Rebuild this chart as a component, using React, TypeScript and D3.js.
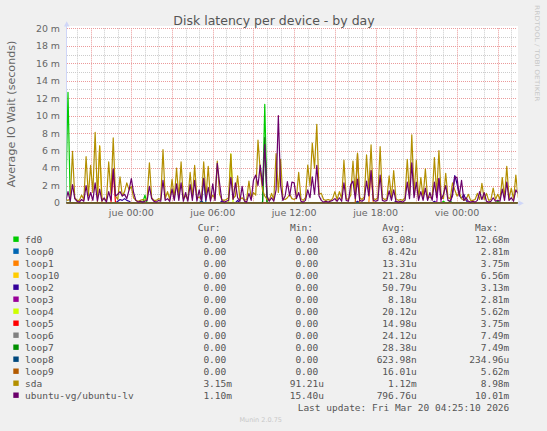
import React from 'react';
import * as d3 from 'd3';

// ---- data (values in milliseconds) ----
const sampleStart = new Date(2026, 2, 18, 19, 10);
const sampleStepMinutes = 10;
const viewStart = new Date(2026, 2, 18, 19, 15, 36);
const viewEnd = new Date(2026, 2, 20, 4, 25, 10);

const sdaValues = [
  0.4, 0.3, 0.5, 5.9, 0.6, 0.3, 0.3, 0.9, 0.4, 5.3,
  0.8, 4.3, 1.2, 8.1, 0.7, 6.5, 0.5, 0.4, 0.3, 4.7,
  1.0, 7.45, 0.8, 0.4, 3.0, 0.8, 1.3, 2.3, 1.5, 1.9,
  0.6, 0.3, 0.2, 0.3, 0.4, 0.3, 0.5, 4.6, 0.6, 0.3,
  0.3, 0.5, 0.4, 6.1, 0.5, 1.3, 0.4, 2.7, 0.5, 4.0,
  0.6, 4.7, 0.5, 0.8, 0.4, 3.5, 0.6, 4.3, 0.5, 0.7,
  0.4, 4.7, 0.6, 4.2, 0.4, 0.9, 0.5, 4.8, 1.0, 0.4,
  0.3, 0.4, 0.6, 5.6, 0.5, 0.8, 3.1, 0.4, 0.6, 0.3,
  0.4, 2.5, 0.5, 1.2, 0.9, 7.2, 3.7, 1.5, 0.8, 0.4,
  0.3, 1.1, 0.4, 5.65, 1.2, 5.0, 0.5, 0.4, 0.6, 1.0,
  0.5, 0.4, 0.6, 3.5, 0.5, 0.3, 0.6, 4.35, 2.0, 6.85,
  4.0, 9.0, 1.0, 1.1, 0.4, 0.3, 0.4, 0.3, 0.5, 1.3,
  0.4, 1.3, 0.5, 4.9, 0.5, 0.4, 0.9, 4.8, 1.0, 5.7,
  0.6, 0.4, 0.7, 5.5, 1.5, 6.65, 0.5, 0.4, 0.6, 6.45,
  0.6, 0.4, 0.5, 3.1, 0.6, 3.7, 0.5, 0.3, 0.4, 0.3,
  0.6, 5.0, 0.8, 7.8, 1.0, 4.9, 0.5, 2.9, 0.6, 3.9,
  0.5, 0.7, 0.5, 5.2, 1.0, 6.0, 0.6, 0.5, 3.4, 0.6,
  0.5, 2.3, 1.5, 0.8, 1.2, 0.5, 0.3, 0.4, 1.0, 0.3,
  0.3, 0.4, 1.1, 0.4, 2.25, 0.4, 1.1, 0.3, 0.4, 1.7,
  0.4, 1.0, 0.4, 2.9, 0.6, 4.2, 0.5, 1.7, 0.4, 3.2,
  0.6,
];

const lvValues = [
  0.2, 1.3, 0.2, 2.1, 0.5, 0.2, 0.1, 0.4, 0.2, 2.0,
  0.3, 1.2, 0.3, 2.3, 0.2, 1.6, 0.2, 0.6, 0.1, 1.3,
  0.3, 3.9, 0.8, 1.0, 1.3, 0.8, 1.0, 0.5, 1.5, 2.8,
  1.2, 0.3, 0.1, 0.2, 0.1, 0.2, 0.3, 1.9, 0.5, 0.2,
  0.1, 0.3, 0.2, 2.6, 0.3, 0.5, 0.2, 1.6, 0.3, 2.2,
  0.3, 2.3, 0.2, 1.2, 0.2, 2.1, 0.3, 2.6, 0.2, 1.5,
  0.2, 2.8, 0.3, 1.8, 0.2, 2.2, 0.3, 4.55, 2.3, 0.3,
  0.1, 0.2, 0.3, 2.95, 0.4, 2.3, 0.6, 0.2, 1.9, 0.2,
  0.1, 1.1, 0.3, 2.6, 3.2, 2.0, 4.35, 2.0, 6.7, 0.8,
  0.2, 0.6, 0.2, 1.5, 10.0, 2.0, 0.3, 0.8, 2.45, 0.8,
  2.4, 2.3, 0.5, 1.2, 0.2, 0.1, 0.3, 1.5, 0.6, 3.0,
  1.0, 4.3, 0.8, 0.3, 0.1, 0.2, 0.1, 0.2, 0.3, 0.5,
  0.2, 0.6, 0.2, 2.3, 0.3, 0.2, 2.1, 2.5, 0.5, 2.75,
  0.3, 0.2, 0.4, 2.5, 0.8, 3.7, 0.3, 0.2, 0.3, 3.2,
  0.3, 0.2, 0.3, 1.4, 0.3, 1.5, 0.2, 0.1, 0.2, 0.1,
  0.3, 2.4, 0.5, 4.6, 0.6, 2.4, 0.3, 1.3, 0.3, 1.7,
  0.3, 1.2, 0.3, 2.4, 0.6, 2.8, 0.4, 1.0, 2.0, 0.3,
  0.2, 0.8, 3.0, 2.9, 0.8, 2.6, 0.3, 0.6, 0.2, 0.1,
  0.2, 0.1, 0.3, 1.3, 0.4, 1.2, 0.2, 0.1, 0.2, 0.6,
  0.2, 0.3, 0.2, 1.6, 0.3, 2.4, 0.3, 0.6, 0.2, 1.5,
  1.1,
];

// sparse readings for mostly idle devices: [sample index, value in ms]
const fd0Readings: [number, number][] = [[1, 12.68], [35, 0.9], [88, 11.3], [167, 0.2], [191, 0.2]];
const loop0Readings: [number, number][] = [[61, 2.81]];
const loop1Readings: [number, number][] = [[135, 3.75]];
const loop10Readings: [number, number][] = [[15, 6.56]];
const loop2Readings: [number, number][] = [
  [23, 0.2], [24, 0.4], [25, 0.3], [26, 0.5], [27, 0.3], [28, 0.2], [69, 0.2], [76, 0.3],
  [129, 0.2], [146, 0.2], [163, 0.2], [171, 1.2], [172, 3.13], [173, 2.2], [174, 0.9],
  [175, 0.5], [176, 1.0], [177, 0.3],
];
const loop3Readings: [number, number][] = [[165, 2.81]];
const loop4Readings: [number, number][] = [[73, 5.62]];
const loop5Readings: [number, number][] = [[21, 3.75]];
const loop6Readings: [number, number][] = [[88, 7.49]];
const loop7Readings: [number, number][] = [[88, 7.49], [170, 0.2]];
const loop8Readings: [number, number][] = [[60, 0.23]];
const loop9Readings: [number, number][] = [[129, 5.62]];

const deviceNames = ['fd0', 'loop0', 'loop1', 'loop10', 'loop2', 'loop3', 'loop4', 'loop5', 'loop6', 'loop7', 'loop8', 'loop9', 'sda', 'ubuntu-vg/ubuntu-lv'];
const deviceColors = ['#00cc00', '#0066b3', '#ff8000', '#ffcc00', '#330099', '#990099', '#ccff00', '#ff0000', '#808080', '#008f00', '#00487d', '#b35a00', '#b38f00', '#6b006b'];
const curLabels = ['0.00', '0.00', '0.00', '0.00', '0.00', '0.00', '0.00', '0.00', '0.00', '0.00', '0.00', '0.00', '3.15m', '1.10m'];
const minLabels = ['0.00', '0.00', '0.00', '0.00', '0.00', '0.00', '0.00', '0.00', '0.00', '0.00', '0.00', '0.00', '91.21u', '15.40u'];
const avgLabels = ['63.08u', '8.42u', '13.31u', '21.28u', '50.79u', '8.18u', '20.12u', '14.98u', '24.12u', '28.38u', '623.98n', '16.01u', '1.12m', '796.76u'];
const maxLabels = ['12.68m', '2.81m', '3.75m', '6.56m', '3.13m', '2.81m', '5.62m', '3.75m', '7.49m', '7.49m', '234.96u', '5.62m', '8.98m', '10.01m'];
const yTickValues = [0, 2, 4, 6, 8, 10, 12, 14, 16, 18, 20];
const dayNames = ['dom', 'lun', 'mar', 'mié', 'jue', 'vie', 'sáb'];

const sampleCount = sdaValues.length;
function fromReadings(readings: [number, number][]): number[] {
  const out = new Array(sampleCount).fill(0);
  readings.forEach(([i, v]) => { out[i] = v; });
  return out;
}

const seriesValues: number[][] = [
  fromReadings(fd0Readings), fromReadings(loop0Readings), fromReadings(loop1Readings),
  fromReadings(loop10Readings), fromReadings(loop2Readings), fromReadings(loop3Readings),
  fromReadings(loop4Readings), fromReadings(loop5Readings), fromReadings(loop6Readings),
  fromReadings(loop7Readings), fromReadings(loop8Readings), fromReadings(loop9Readings),
  sdaValues, lvValues,
];

const W = 547;
const H = 431;
const L = 67, R = 517, T = 28.3, B = 203;

export default function App() {
  const x = d3.scaleTime().domain([viewStart, viewEnd]).range([L, R]);
  const y = d3.scaleLinear().domain([0, 20]).range([B, T]);
  const sampleTime = (i: number) => d3.timeMinute.offset(sampleStart, i * sampleStepMinutes);
  const line = d3.line<number>().x((_, i) => x(sampleTime(i))).y(d => y(d));

  const hours = d3.timeHour.range(d3.timeHour.ceil(viewStart), viewEnd);
  const minorV = hours.filter(h => h.getHours() % 3 !== 0);
  const majorV = hours.filter(h => h.getHours() % 3 === 0);
  const labelTicks = hours.filter(h => h.getHours() % 6 === 0);
  const minorH = d3.range(1, 20, 2);
  const majorH = yTickValues;
  const crisp = (v: number) => Math.round(v) + 0.5;
  const fmt = (d: Date) => `${dayNames[d.getDay()]} ${d3.timeFormat('%H:%M')(d)}`;

  const mono = '"DejaVu Sans Mono", monospace';
  const sans = '"DejaVu Sans", sans-serif';
  const charW = 5.72;
  const colRight = [232, 324, 416.7, 509.3];
  const colHeaderX = [197.7, 290, 382.3, 475];
  const valX = (col: number, s: string) => colRight[col] - (/[a-z]$/.test(s) ? 0 : charW);

  return (
    <svg width={W} height={H} style={{ position: 'absolute', left: 0, top: 0 }} xmlns="http://www.w3.org/2000/svg">
      <defs>
        <clipPath id="plotClip"><rect x={66.5} y={20} width={451} height={183.6} /></clipPath>
      </defs>
      <rect x={0} y={0} width={W} height={H} fill="#f0f0f0" />
      <rect x={66} y={26} width={452} height={177} fill="#ffffff" />
      <text x={W / 2 + 0.5} y={24.5} textAnchor="middle" fontFamily={sans} fontSize={12.5} fill="#555">Disk latency per device - by day</text>
      <text transform="translate(535.3,5) rotate(90)" fontFamily={sans} fontSize={6.3} fill="#c8c8c8" textLength={96.5} lengthAdjust="spacingAndGlyphs">RRDTOOL / TOBI OETIKER</text>
      <text transform="translate(15.2,114) rotate(-90)" textAnchor="middle" fontFamily={sans} fontSize={11.1} fill="#666">Average IO Wait (seconds)</text>

      {/* grid */}
      {minorH.map(v => (
        <line key={'mh' + v} x1={L} x2={R} y1={crisp(y(v))} y2={crisp(y(v))} stroke="#cccccc" strokeDasharray="1,1" />
      ))}
      {minorV.map(h => (
        <line key={'mv' + +h} x1={crisp(x(h))} x2={crisp(x(h))} y1={T} y2={B} stroke="#cccccc" strokeDasharray="1,1" />
      ))}
      {majorH.map(v => (
        <line key={'Mh' + v} x1={L} x2={R} y1={crisp(y(v))} y2={crisp(y(v))} stroke="#eb9a9a" strokeDasharray="1,1" />
      ))}
      {majorV.map(h => (
        <line key={'Mv' + +h} x1={crisp(x(h))} x2={crisp(x(h))} y1={T} y2={B} stroke="#eb9a9a" strokeDasharray="1,1" />
      ))}

      {/* axes */}
      <line x1={L - 0.5} x2={L - 0.5} y1={B} y2={26} stroke="#cfd6f8" />
      <line x1={L} x2={519} y1={B + 0.5} y2={B + 0.5} stroke="#cfd6f8" />
      <polygon points={`${L - 3},26.5 ${L + 2.5},26.5 ${L - 0.3},21.2`} fill="#cfd6f8" />
      <polygon points={`518.5,200.5 518.5,206 523.8,203.3`} fill="#cfd6f8" />

      {yTickValues.map(v => (
        <text key={'yt' + v} x={60} y={y(v) + 3.4} textAnchor="end" fontFamily={sans} fontSize={9.4} fill="#666">{v === 0 ? '0' : `${v} m`}</text>
      ))}
      {labelTicks.map(h => (
        <text key={'xt' + +h} x={x(h)} y={215.5} textAnchor="middle" fontFamily={sans} fontSize={9.5} fill="#666">{fmt(h)}</text>
      ))}

      {/* series */}
      <g clipPath="url(#plotClip)" fill="none" strokeWidth={1.2} strokeLinejoin="round">
        {seriesValues.map((vals, k) => (
          <path key={'s' + k} d={line(vals) || ''} stroke={deviceColors[k]} />
        ))}
      </g>

      {/* legend */}
      {['Cur:', 'Min:', 'Avg:', 'Max:'].map((h, c) => (
        <text key={'h' + c} x={colHeaderX[c]} y={231} fontFamily={mono} fontSize={9.5} fill="#555">{h}</text>
      ))}
      {deviceNames.map((name, k) => {
        const by = 242.7 + 12 * k;
        const vals = [curLabels[k], minLabels[k], avgLabels[k], maxLabels[k]];
        return (
          <g key={'lg' + k}>
            <rect x={13.3} y={by - 6.2} width={5.4} height={5.4} fill={deviceColors[k]} />
            <text x={25} y={by} fontFamily={mono} fontSize={9.5} fill="#555">{name}</text>
            {vals.map((s, c) => (
              <text key={c} x={valX(c, s)} y={by} textAnchor="end" fontFamily={mono} fontSize={9.5} fill="#555">{s}</text>
            ))}
          </g>
        );
      })}
      <text x={509.3} y={410.5} textAnchor="end" fontFamily={mono} fontSize={9.5} fill="#555">Last update: Fri Mar 20 04:25:10 2026</text>
      <text x={260.7} y={421.5} textAnchor="middle" fontFamily={sans} fontSize={6.5} fill="#c8c8c8">Munin 2.0.75</text>
    </svg>
  );
}
